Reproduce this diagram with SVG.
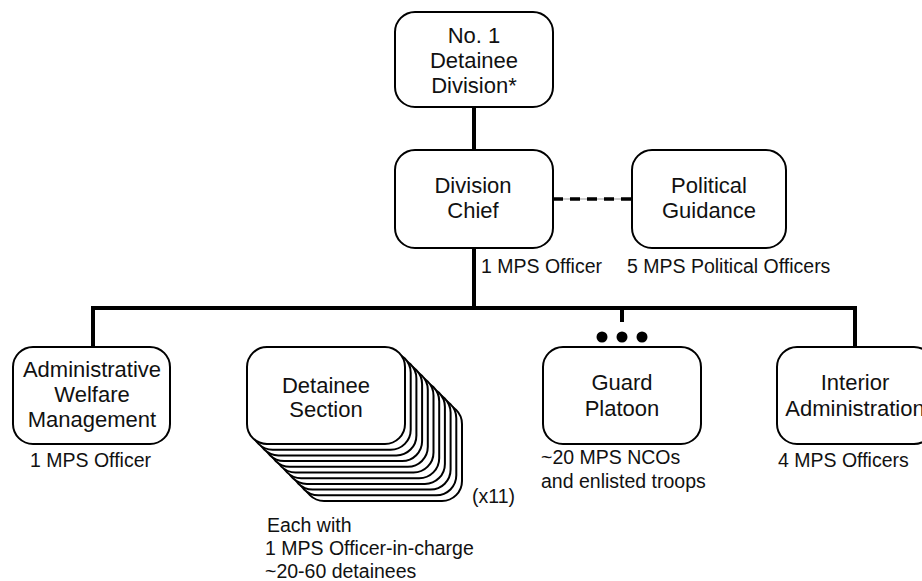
<svg xmlns="http://www.w3.org/2000/svg" width="922" height="581" viewBox="0 0 922 581">
<style>
.box{fill:#fff;stroke:#000;stroke-width:2}
.t{font-family:"Liberation Sans",Arial,sans-serif;font-size:22px;fill:#111;text-anchor:middle}
.s{font-family:"Liberation Sans",Arial,sans-serif;font-size:19.5px;fill:#111}
.ln{fill:none;stroke:#000;stroke-width:4}
</style>
<rect width="922" height="581" fill="#fff"/>
<g id="connectors">
<path class="ln" d="M474,106 V150"/>
<path class="ln" d="M474,248 V310"/>
<path class="ln" d="M93,347 V308 H855 V347"/>
<path class="ln" d="M622,308 V322"/>
<line x1="553" y1="199" x2="632" y2="199" stroke="#999" stroke-width="1"/>
<line x1="553" y1="199" x2="632" y2="199" stroke="#000" stroke-width="3.5" stroke-dasharray="10,7"/>
</g>
<g id="division">
<rect class="box" x="395" y="12" width="158" height="95" rx="20"/>
<text class="t" x="474" y="43">No. 1</text>
<text class="t" x="474" y="68">Detainee</text>
<text class="t" x="474" y="93">Division*</text>
</g>
<g id="chief">
<rect class="box" x="395" y="150" width="158" height="98" rx="20"/>
<text class="t" x="473" y="193">Division</text>
<text class="t" x="473" y="218">Chief</text>
<text class="s" x="481" y="273">1 MPS Officer</text>
</g>
<g id="political">
<rect class="box" x="632" y="150" width="154" height="98" rx="20"/>
<text class="t" x="709" y="193">Political</text>
<text class="t" x="709" y="218">Guidance</text>
<text class="s" x="627" y="273">5 MPS Political Officers</text>
</g>
<g id="admin">
<rect class="box" x="13" y="347" width="157" height="97" rx="20"/>
<text class="t" x="92" y="377">Administrative</text>
<text class="t" x="92" y="402">Welfare</text>
<text class="t" x="92" y="427">Management</text>
<text class="s" x="30" y="467">1 MPS Officer</text>
</g>
<g id="section">
<rect class="box" x="304" y="404" width="158" height="97" rx="20"/>
<rect class="box" x="298.3" y="398.3" width="158" height="97" rx="20"/>
<rect class="box" x="292.6" y="392.6" width="158" height="97" rx="20"/>
<rect class="box" x="286.9" y="386.9" width="158" height="97" rx="20"/>
<rect class="box" x="281.2" y="381.2" width="158" height="97" rx="20"/>
<rect class="box" x="275.5" y="375.5" width="158" height="97" rx="20"/>
<rect class="box" x="269.8" y="369.8" width="158" height="97" rx="20"/>
<rect class="box" x="264.1" y="364.1" width="158" height="97" rx="20"/>
<rect class="box" x="258.4" y="358.4" width="158" height="97" rx="20"/>
<rect class="box" x="252.7" y="352.7" width="158" height="97" rx="20"/>
<rect class="box" x="247" y="347" width="158" height="97" rx="20"/>
<text class="t" x="326" y="393">Detainee</text>
<text class="t" x="326" y="417">Section</text>
<text class="s" x="472" y="503">(x11)</text>
<text class="s" x="267" y="532">Each with</text>
<text class="s" x="265" y="555">1 MPS Officer-in-charge</text>
<text class="s" x="265" y="578">~20-60 detainees</text>
</g>
<g id="guard">
<circle cx="602" cy="337" r="5.5"/>
<circle cx="622" cy="337" r="5.5"/>
<circle cx="642" cy="337" r="5.5"/>
<rect class="box" x="543" y="347" width="158" height="97" rx="20"/>
<text class="t" x="622" y="390">Guard</text>
<text class="t" x="622" y="416">Platoon</text>
<text class="s" x="541" y="464">~20 MPS NCOs</text>
<text class="s" x="541" y="488">and enlisted troops</text>
</g>
<g id="interior">
<rect class="box" x="777" y="347" width="157" height="97" rx="20"/>
<text class="t" x="855" y="390">Interior</text>
<text class="t" x="855" y="416">Administration</text>
<text class="s" x="778" y="467">4 MPS Officers</text>
</g>
</svg>
